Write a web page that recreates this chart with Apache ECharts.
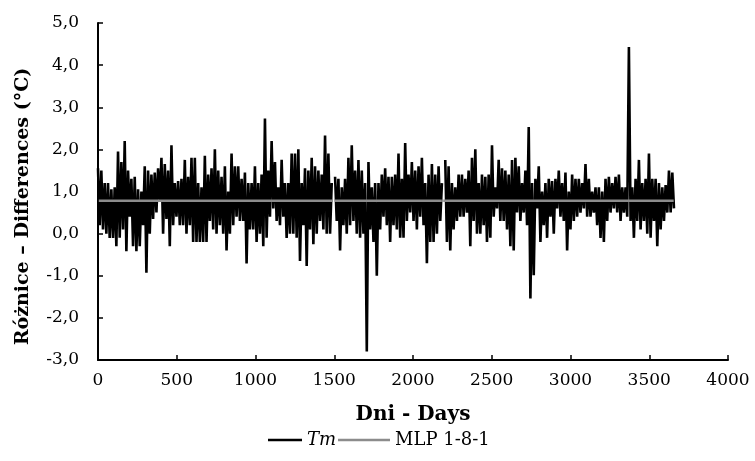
<!DOCTYPE html>
<html>
<head>
<meta charset="utf-8">
<script src="https://cdn.jsdelivr.net/npm/echarts@6/dist/echarts.min.js"></script>
<style>html,body{margin:0;padding:0;background:#fff}#c{width:755px;height:461px}</style>
</head>
<body>
<div id="c"></div>
<script>
// Day spacing of the readings (days between consecutive upper-envelope readings)
const dayStep = 21.2;
// Tm: upper readings (peaks) per step
const tmHigh = [
 1.55,1.5,1.2,1.2,1.05,1.1,1.95,1.7,2.2,1.5,1.3,1.35,1.05,1.0,1.6,1.5,1.4,1.45,1.55,1.8,1.65,1.5,2.1,1.2,1.25,1.3,1.75,1.35,1.8,
 1.8,1.2,1.1,1.85,1.4,1.55,2.0,1.5,1.35,1.6,1.0,1.9,1.6,1.6,1.3,1.45,1.2,1.2,1.6,1.2,1.4,2.73,1.5,2.2,1.7,1.1,1.75,1.2,1.2,
 1.9,1.9,2.0,1.2,1.55,1.5,1.8,1.6,1.5,1.4,2.33,1.9,1.2,1.35,1.3,1.1,1.3,1.8,2.1,1.5,1.75,1.5,1.2,1.7,1.1,1.2,1.2,1.4,1.55,1.35,
 1.35,1.4,1.9,1.3,2.15,1.4,1.7,1.5,1.6,1.8,1.2,1.4,1.65,1.4,1.6,1.2,1.75,1.6,1.2,1.1,1.4,1.4,1.3,1.5,1.8,2.0,1.2,1.4,1.35,
 1.4,2.1,1.1,1.75,1.55,1.5,1.4,1.75,1.8,1.6,1.2,1.5,2.53,1.2,1.3,1.6,1.0,1.2,1.3,1.25,1.3,1.5,1.2,1.45,1.0,1.4,1.3,1.3,1.2,1.65,
 1.3,1.0,1.1,1.1,1.0,1.3,1.35,1.2,1.35,1.4,1.1,1.1,4.43,1.1,1.3,1.75,1.2,1.3,1.9,1.3,1.3,1.2,1.1,1.15,1.5,1.45
];
// Tm: lower readings (troughs) half a step later; null = missing data
const tmLow = [
 0.2,0.1,0.0,-0.1,-0.1,-0.3,-0.1,0.1,-0.42,0.4,-0.3,-0.42,-0.3,0.2,-0.93,0.0,0.35,0.5,0.75,0.0,0.35,-0.3,0.2,0.4,0.2,0.2,0.0,0.2,-0.2,
 -0.2,-0.2,-0.2,-0.2,0.3,0.1,0.0,0.2,0.0,-0.4,0.0,0.2,0.4,0.3,0.3,-0.71,0.1,0.1,-0.2,0.0,-0.3,-0.1,0.4,0.6,0.3,0.2,0.4,-0.1,0.0,
 0.0,-0.1,-0.65,0.2,-0.77,0.1,-0.25,0.0,0.3,0.1,0.0,0.0,null,0.3,-0.4,0.2,0.0,0.2,0.3,0.0,-0.1,0.0,-2.8,0.1,-0.2,-1.0,0.1,0.4,0.2,-0.2,
 0.2,0.1,-0.1,-0.1,0.3,0.5,0.3,0.1,0.4,0.2,-0.7,-0.2,-0.2,0.0,0.3,null,-0.2,-0.4,0.1,0.3,0.4,0.4,0.5,-0.3,0.3,0.0,0.0,0.2,-0.2,
 -0.1,0.4,0.6,0.3,0.3,0.1,-0.3,-0.4,0.5,0.3,0.5,0.2,-1.54,-0.99,0.6,-0.2,0.2,-0.1,0.4,0.0,0.6,0.4,0.3,-0.4,0.1,0.3,0.4,0.5,0.6,0.4,
 0.4,0.5,0.2,-0.1,-0.2,0.3,0.5,0.6,0.5,0.3,0.5,0.4,0.3,-0.1,0.3,0.1,0.3,0.0,-0.1,0.3,-0.3,0.1,0.3,0.5,0.5,0.6
];
// MLP 1-8-1: segments (start day, end day) and level
const mlpStart = [5, 1503, 2192];
const mlpEnd = [1492, 2183, 3655];
const mlpLevel = [0.78, 0.78, 0.78];

const xTicks = {min: 0, max: 4000, interval: 500};
const yTicks = {min: -3, max: 5, interval: 1};

const tmData = [];
for (let i = 0; i < tmHigh.length; i++) {
  tmData.push([i * dayStep, tmHigh[i]]);
  tmData.push([i * dayStep + dayStep / 2, tmLow[i] === null ? '-' : tmLow[i]]);
}
const mlpData = [];
for (let s = 0; s < mlpStart.length; s++) {
  if (s > 0) mlpData.push([(mlpEnd[s - 1] + mlpStart[s]) / 2, '-']);
  mlpData.push([mlpStart[s], mlpLevel[s]]);
  mlpData.push([mlpEnd[s], mlpLevel[s]]);
}

const serif = 'DejaVu Serif';
const chart = echarts.init(document.getElementById('c'), null, {renderer: 'canvas'});
chart.setOption({
  animation: false,
  backgroundColor: '#fff',
  grid: {left: 98, right: 27, top: 23, bottom: 101},
  legend: [
    {data: [{name: 'Tm', icon: 'rect'}], left: 268, top: 431, padding: 0, itemWidth: 34, itemHeight: 2.5, itemGap: 0,
     textStyle: {fontFamily: serif, fontStyle: 'italic', fontSize: 18, color: '#000'}},
    {data: [{name: 'MLP 1-8-1', icon: 'rect'}], left: 338, top: 431, padding: 0, itemWidth: 52, itemHeight: 2.5, itemGap: 0,
     textStyle: {fontFamily: serif, fontSize: 18, color: '#000'}}
  ],
  xAxis: {
    type: 'value', min: xTicks.min, max: xTicks.max, interval: xTicks.interval,
    axisLine: {show: true, onZero: false, lineStyle: {color: '#000', width: 2}},
    axisTick: {show: true, inside: true, length: 5, lineStyle: {color: '#000', width: 1.5}},
    splitLine: {show: false},
    axisLabel: {color: '#000', fontFamily: serif, fontSize: 17, margin: 12, formatter: v => String(v)},
    name: 'Dni - Days', nameLocation: 'middle', nameGap: 45,
    nameTextStyle: {fontFamily: serif, fontWeight: 'bold', fontSize: 20, color: '#000'}
  },
  yAxis: {
    type: 'value', min: yTicks.min, max: yTicks.max, interval: yTicks.interval,
    axisLine: {show: true, onZero: false, lineStyle: {color: '#000', width: 2}},
    axisTick: {show: true, inside: true, length: 5, lineStyle: {color: '#000', width: 1.5}},
    splitLine: {show: false},
    axisLabel: {color: '#000', fontFamily: serif, fontSize: 17, margin: 19,
      formatter: v => v.toFixed(1).replace('.', ',')},
    name: 'Różnice – Differences (°C)', nameLocation: 'middle', nameGap: 65, nameRotate: 90,
    nameTextStyle: {fontFamily: serif, fontWeight: 'bold', fontSize: 19, color: '#000', padding: [0, 30, 0, 0]}
  },
  series: [
    {name: 'Tm', type: 'line', data: tmData, symbol: 'none', connectNulls: false,
     lineStyle: {color: '#000', width: 2.6}, itemStyle: {color: '#000'}, z: 2},
    {name: 'MLP 1-8-1', type: 'line', data: mlpData, symbol: 'none', connectNulls: false,
     lineStyle: {color: '#8c8c8c', width: 2.5}, itemStyle: {color: '#8c8c8c'}, z: 3}
  ]
});
</script>
</body>
</html>
